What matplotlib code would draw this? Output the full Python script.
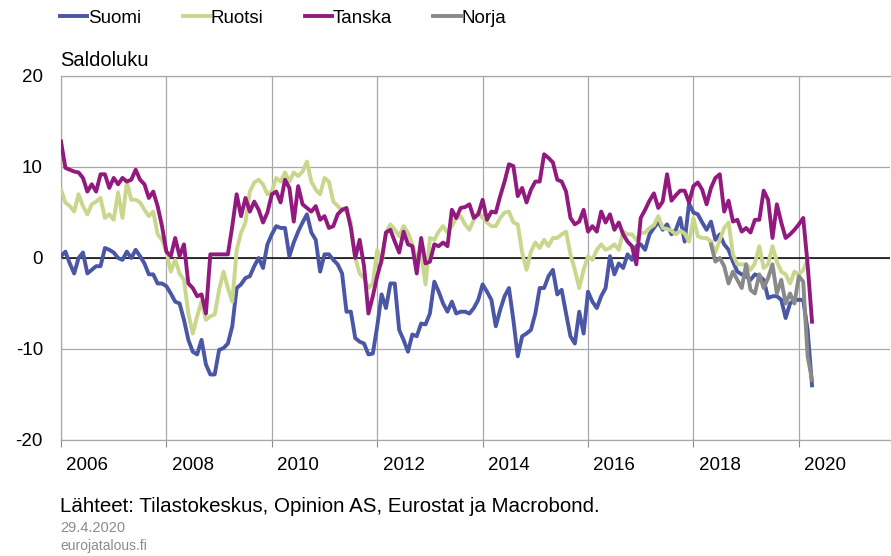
import numpy as np
import matplotlib.pyplot as plt

plt.rcParams['font.family'] = ['Liberation Sans', 'DejaVu Sans']
plt.rcParams['axes.unicode_minus'] = False

# monthly data, Jan 2006 -> Apr 2020 (saldoluku)
start_year = 2006

suomi = [
    0.2, 0.7, -0.6, -1.7, 0.0, 0.6, -1.7, -1.3, -0.9, -0.9, 1.1, 0.9,
    0.6, 0.0, -0.2, 0.7, 0.0, 0.9, 0.2, -0.6, -1.8, -1.8, -2.8, -2.8,
    -3.1, -3.9, -4.8, -5.0, -6.8, -9.0, -10.3, -10.6, -9.0, -11.7, -12.8, -12.8,
    -10.1, -9.9, -9.4, -7.5, -3.3, -2.9, -2.2, -2.0, -0.9, 0.0, -1.1, 1.5,
    2.6, 3.5, 3.3, 3.3, 0.2, 1.7, 2.9, 3.9, 4.8, 2.8, 2.0, -1.5,
    0.4, 0.4, -0.2, -0.7, -1.7, -5.9, -5.9, -8.8, -9.2, -9.4, -10.6, -10.5,
    -7.5, -4.0, -5.5, -2.8, -2.8, -7.9, -9.0, -10.3, -8.4, -8.6, -7.2, -7.3,
    -6.1, -2.6, -3.7, -5.0, -5.9, -4.8, -6.1, -5.9, -5.9, -6.1, -5.5, -4.6,
    -2.9, -3.7, -4.6, -7.5, -5.7, -4.2, -3.3, -6.8, -10.8, -8.6, -8.3, -7.9,
    -6.1, -3.3, -3.3, -2.0, -1.3, -4.0, -3.5, -6.1, -8.6, -9.4, -5.9, -8.3,
    -3.7, -4.8, -5.5, -4.2, -3.3, 0.2, -1.8, -0.6, -1.1, 0.4, -0.2, 1.3,
    1.5, 0.9, 2.6, 3.3, 4.0, 3.1, 3.7, 2.6, 3.1, 4.4, 1.8, 6.0,
    5.0, 4.8, 3.9, 3.1, 4.0, 2.0, 2.6, 1.5, 0.9, -0.4, -1.5, -1.8,
    -2.0, -2.4, -1.8, -2.0, -2.4, -4.4, -4.2, -4.2, -4.6, -6.6, -5.0, -4.6,
    -4.6, -4.6, -7.9, -14.0,
]

ruotsi = [
    7.5, 6.1, 5.7, 5.1, 7.0, 5.7, 4.8, 5.9, 6.2, 6.6, 4.4, 4.8,
    4.2, 7.2, 4.4, 8.3, 6.4, 6.4, 6.1, 5.3, 4.6, 5.1, 2.6, 2.0,
    0.7, -1.5, -0.2, -1.7, -2.4, -6.1, -8.3, -6.4, -4.8, -6.8, -6.4, -6.2,
    -3.5, -1.5, -3.3, -4.8, 0.9, 2.8, 3.9, 7.3, 8.3, 8.6, 8.1, 7.0,
    7.3, 8.8, 8.4, 9.4, 8.4, 9.4, 9.0, 9.5, 10.6, 8.4, 7.5, 7.0,
    8.8, 8.4, 6.2, 5.7, 5.3, 5.1, 3.9, 0.0, -1.7, -2.2, -3.3, -2.8,
    0.9, -0.6, 2.8, 3.7, 3.1, 2.4, 3.5, 2.8, 1.5, -0.2, 0.6, -2.9,
    2.2, 2.0, 2.9, 3.5, 2.8, 3.5, 4.4, 4.6, 3.7, 3.1, 4.2, 5.0,
    4.4, 3.9, 3.5, 3.5, 4.4, 5.0, 5.1, 3.9, 3.7, 0.6, -1.3, 0.7,
    1.7, 1.1, 2.0, 1.3, 2.2, 2.2, 2.6, 2.9, 0.4, -1.3, -3.3, -1.3,
    0.2, -0.2, 0.9, 1.5, 0.9, 1.1, 1.5, 0.9, 2.9, 2.6, 2.6, 2.0,
    2.7, 2.8, 3.3, 3.6, 4.6, 3.3, 3.2, 3.0, 2.6, 3.0, 2.7, 1.8,
    4.4, 2.4, 2.2, 2.2, 1.8, 0.6, 2.0, 3.3, 3.9, 0.4, -0.7, -0.7,
    -0.7, -1.3, -0.6, 1.3, -1.1, -0.7, 1.3, -0.4, -1.5, -1.8, -2.8, -1.5,
    -1.8, -1.3, -0.2,
]

tanska = [
    12.8, 9.9, 9.7, 9.5, 9.4, 8.8, 7.3, 8.1, 7.3, 9.2, 9.2, 7.7,
    8.8, 8.1, 8.8, 8.4, 8.6, 9.7, 8.6, 8.1, 6.6, 7.3, 5.7, 3.5,
    0.7, 0.2, 2.2, 0.2, 1.5, -2.8, -3.3, -4.2, -4.0, -6.1, 0.4, 0.4,
    0.4, 0.4, 0.4, 3.5, 7.0, 4.6, 6.6, 5.1, 6.2, 5.3, 3.9, 5.0,
    7.0, 7.3, 6.1, 8.6, 7.7, 4.0, 7.9, 5.9, 5.5, 5.1, 5.7, 4.2,
    4.6, 3.3, 3.5, 4.8, 5.3, 5.5, 3.3, 0.0, 2.0, -0.9, -6.1, -4.2,
    -2.0, -0.2, 2.8, 3.1, 1.8, 0.6, 2.9, 1.5, 1.3, -1.7, 2.2, -0.6,
    -0.4, 1.5, 1.3, 1.7, 1.3, 5.3, 4.4, 5.5, 5.6, 5.9, 4.4, 4.8,
    6.4, 4.2, 5.1, 5.0, 6.8, 8.4, 10.3, 10.1, 6.8, 7.7, 6.1, 7.5,
    8.4, 8.4, 11.4, 11.0, 10.5, 8.6, 8.4, 7.3, 4.4, 3.7, 4.0, 5.3,
    2.9, 3.5, 2.9, 5.1, 3.9, 4.8, 3.1, 3.9, 2.6, 1.8, 1.3, -0.7,
    4.4, 5.3, 6.3, 7.1, 5.5, 6.2, 9.2, 6.3, 6.9, 7.4, 7.4, 6.1,
    7.9, 8.3, 7.5, 5.9, 7.7, 8.8, 9.2, 5.1, 6.3, 4.0, 4.2, 2.9,
    3.3, 2.8, 4.2, 4.2, 7.4, 6.4, 2.2, 5.9, 3.9, 2.2, 2.6, 3.1,
    3.7, 4.4, -0.7, -7.0,
]

# Norja starts Jun 2018 (month index 148)
norja_start = 148
norja = [
    1.5, -0.4, 0.0, -0.9, -2.8, -1.5, -2.4, -3.3, -0.7, -3.5, -3.9, -1.8,
    -3.3, -2.2, -0.7, -3.9, -2.4, -5.0, -3.9, -5.0, -2.0, -2.6, -10.8, -13.4,
]

series = [
    ("Suomi", suomi, 0, "#4a56a6"),
    ("Ruotsi", ruotsi, 0, "#c9d78c"),
    ("Tanska", tanska, 0, "#921a7f"),
    ("Norja", norja, norja_start, "#898989"),
]

fig = plt.figure(figsize=(8.91, 5.56), dpi=100)
ax = fig.add_axes([61 / 891, 1 - 440 / 556, 829 / 891, 364 / 556])

for name, vals, offset, col in series:
    t = start_year + (offset + np.arange(len(vals))) / 12
    ax.plot(t, vals, color=col, lw=2.8, label=name, zorder=3,
            solid_joinstyle="round")

ax.axhline(0, color="black", lw=1.1, zorder=2)

ax.set_xlim(2006, 2021.73)
ax.set_ylim(-20, 20)

years = np.arange(2006, 2021, 2)
ax.set_xticks(years)
ax.set_xticklabels([])
ax.set_xticks(years + 0.5, minor=True)
ax.set_xticklabels([str(y) for y in years], minor=True)
ax.tick_params(axis="x", which="major", length=5, width=0.8, color="#8c8c8c",
               direction="out")
ax.tick_params(axis="x", which="minor", length=0, pad=12, labelsize=13.5)

ax.set_yticks([-20, -10, 0, 10, 20])
ax.tick_params(axis="y", length=0, pad=13, labelsize=13.5)

ax.grid(True, which="major", color="#a8a8a8", lw=0.9, zorder=0)
for side in ["top", "left", "bottom"]:
    ax.spines[side].set_color("#a8a8a8")
    ax.spines[side].set_linewidth(0.9)
ax.spines["right"].set_visible(False)

fig.text(60 / 891, 1 - 61 / 556, "Saldoluku", fontsize=14.5, va="center",
         ha="left")

fig.legend(loc="center left", bbox_to_anchor=(60 / 891, 1 - 18 / 556),
           ncol=4, frameon=False, fontsize=13.5, handlelength=1.45,
           handletextpad=0.05, columnspacing=2.2, borderpad=0,
           borderaxespad=0)

fig.text(60 / 891, 1 - 506 / 556,
         "Lähteet: Tilastokeskus, Opinion AS, Eurostat ja Macrobond.",
         fontsize=14.8, va="center", ha="left")
fig.text(60 / 891, 1 - 528 / 556, "29.4.2020", fontsize=10.5,
         color="#8c8c8c", va="center", ha="left")
fig.text(60 / 891, 1 - 546 / 556, "eurojatalous.fi", fontsize=10,
         color="#8c8c8c", va="center", ha="left")

fig.savefig("out.png", dpi=100)
